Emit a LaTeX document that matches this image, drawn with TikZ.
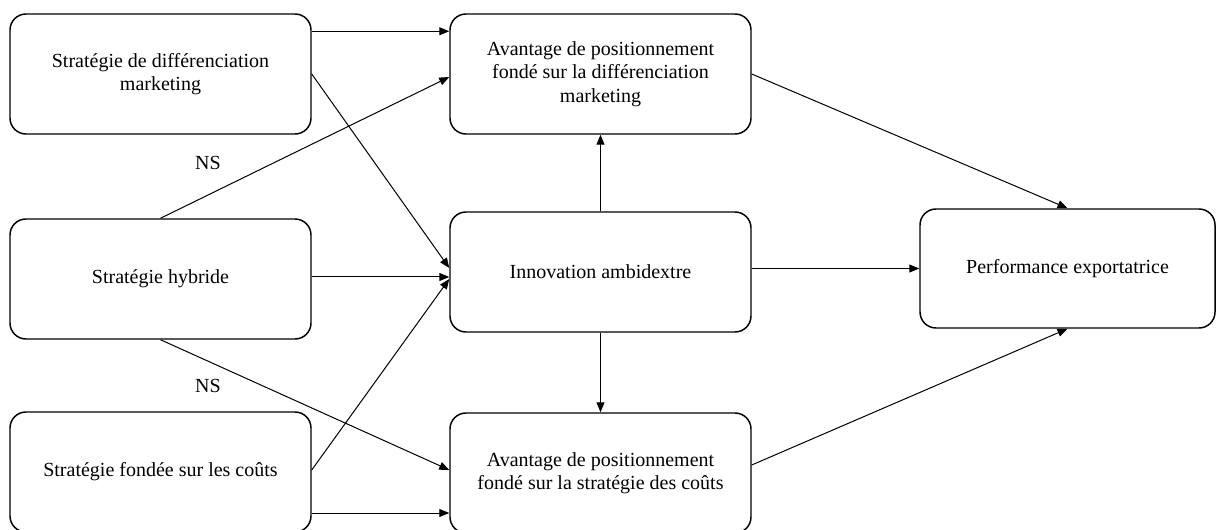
\documentclass[tikz,border=0pt]{standalone}
\usepackage{fontspec}
\setmainfont{Liberation Serif}
\usetikzlibrary{arrows.meta,positioning}

\begin{document}
\begin{tikzpicture}[x=0.75pt,y=-0.75pt,
    bloc/.style={draw,line width=1.1pt,rounded corners=12pt,align=center,
        minimum width=225.75pt,minimum height=90pt,font=\fontsize{15pt}{17.6pt}\selectfont},
    fleche/.style={-{Triangle[length=7.5pt,width=6pt]},line width=0.75pt},
    etiq/.style={font=\fontsize{15pt}{17.6pt}\selectfont}]
    \useasboundingbox (0,0) rectangle (1216,530);

    % colonne de gauche
    \node[bloc] (diff) at (160.5,74) {Stratégie de différenciation\\marketing};
    \node[bloc] (hyb) at (160.5,279) {Stratégie hybride};
    \node[bloc] (couts) at (160.5,472) {Stratégie fondée sur les coûts};
    % colonne du milieu
    \node[bloc] (avdiff) at (600.5,74) {Avantage de positionnement\\fondé sur la différenciation\\marketing};
    \node[bloc] (innov) at (600.5,272) {Innovation ambidextre};
    \node[bloc] (avcouts) at (600.5,473) {Avantage de positionnement\\fondé sur la stratégie des coûts};
    % droite
    \node[bloc,minimum width=221.25pt,minimum height=89.25pt] (perf) at (1067.5,268.5) {Performance exportatrice};

    \node[etiq] (ns1) at (208,163) {NS};
    \node[etiq] (ns2) at (208,386) {NS};

    \draw[fleche] ([shift={(0,18)}]diff.north east) -- ([shift={(0,18)}]avdiff.north west);
    \draw[fleche] (diff.east) -- ([shift={(0,-4)}]innov.west);
    \draw[fleche] (hyb.north) -- ([shift={(0,3)}]avdiff.west);
    \draw[fleche] ([shift={(0,-2)}]hyb.east) -- ([shift={(0,5)}]innov.west);
    \draw[fleche] (hyb.south) -- ([shift={(0,-3)}]avcouts.west);
    \draw[fleche] ([shift={(0,-2)}]couts.east) -- ([shift={(0,7)}]innov.west);
    \draw[fleche] ([shift={(0,41)}]couts.east) -- ([shift={(0,40)}]avcouts.west);
    \draw[fleche] (innov.north) -- (avdiff.south);
    \draw[fleche] (innov.south) -- (avcouts.north);
    \draw[fleche] (innov.east |- perf.west) -- (perf.west); % vers la performance
    \draw[fleche] (avdiff.east) -- (perf.north);
    \draw[fleche] ([shift={(0,-8)}]avcouts.east) -- (perf.south);
\end{tikzpicture}
\end{document}
